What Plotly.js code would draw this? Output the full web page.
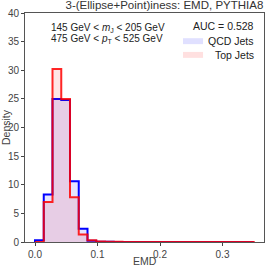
<!DOCTYPE html>
<html><head><meta charset="utf-8">
<script src="https://cdn.plot.ly/plotly-3.0.1.min.js"></script>
<style>html,body{margin:0;padding:0;background:#fff}#c{width:266px;height:266px}</style>
</head><body><div id="c"></div>
<script>
// bin edges: 0 to 0.35, 25 bins of width 0.014
const binStart = 0.0;
const binWidth = 0.014;
const qcdDensity = [0.3, 8.3, 25.0, 24.8, 10.6, 2.3, 0.2, 0.05, 0.03, 0.02, 0.02, 0.01, 0.01, 0.01, 0.01, 0.01, 0.0, 0.0, 0.0, 0.0, 0.0, 0.0, 0.0, 0.0, 0.0];
const topDensity = [0.0, 7.0, 30.2, 25.0, 7.8, 1.3, 0.3, 0.1, 0.05, 0.03, 0.02, 0.02, 0.02, 0.02, 0.02, 0.02, 0.02, 0.02, 0.02, 0.02, 0.02, 0.02, 0.02, 0.02, 0.02];
const seriesNames = ["QCD Jets", "Top Jets"];
const xTicks = [0.0, 0.1, 0.2, 0.3];
const xTickText = ["0.0", "0.1", "0.2", "0.3"];
const yTicks = [0, 5, 10, 15, 20, 25, 30, 35, 40];
const aucText = "AUC = 0.528";
const titleText = "3-(Ellipse+Point)iness: EMD, PYTHIA8";
const xLabel = "EMD";
const yLabel = "Density";
const cut1 = "145 GeV < <i>m</i><sub>J</sub> < 205 GeV";
const cut2 = "475 GeV < <i>p</i><sub>T</sub> < 525 GeV";

function stepXY(vals){
  const xs=[binStart], ys=[0];
  vals.forEach((v,i)=>{ xs.push(binStart+i*binWidth); ys.push(v); });
  const end = binStart+vals.length*binWidth;
  xs.push(end); ys.push(vals[vals.length-1]);
  xs.push(end); ys.push(0);
  return {xs, ys};
}
const q = stepXY(qcdDensity), t = stepXY(topDensity);
const F = "Liberation Sans, Arial, sans-serif";
const data = [
  {x:q.xs, y:q.ys, type:'scatter', mode:'lines', line:{shape:'hv', color:'#0000ff', width:2}, fill:'tozeroy', fillcolor:'rgba(0,0,255,0.1)', name:seriesNames[0], showlegend:false, hoverinfo:'skip'},
  {x:t.xs, y:t.ys, type:'scatter', mode:'lines', line:{shape:'hv', color:'rgba(255,0,0,0.85)', width:2}, fill:'tozeroy', fillcolor:'rgba(255,0,0,0.1)', name:seriesNames[1], showlegend:false, hoverinfo:'skip'}
];
const layout = {
  width:266, height:266,
  margin:{l:25, r:2, t:13, b:24},
  paper_bgcolor:'#fff', plot_bgcolor:'#fff',
  font:{family:F, size:10, color:'#444'},
  showlegend:false,
  title:{text:titleText, font:{family:F, size:11.5, color:'#333'}, x:0.99, xanchor:'right', y:0.995, yanchor:'top'},
  xaxis:{range:[-0.016, 0.3664], tickvals:xTicks, ticktext:xTickText, ticks:'outside', ticklen:3, tickcolor:'#444', showgrid:false, zeroline:false, showline:true, linecolor:'#555', linewidth:1, mirror:true, tickfont:{size:10, color:'#444'}},
  yaxis:{range:[0, 40], tickvals:yTicks, ticks:'outside', ticklen:3, tickcolor:'#444', showgrid:false, zeroline:false, showline:true, linecolor:'#555', linewidth:1, mirror:true, title:{text:yLabel, font:{family:F, size:10.5, color:'#444'}, standoff:2}, tickfont:{size:10, color:'#444'}},
  annotations:[
    {text:xLabel, xref:'paper', yref:'paper', x:0.5, y:-0.085, xanchor:'center', yanchor:'middle', showarrow:false, font:{family:F, size:10.5, color:'#444'}},
    {text:cut1, xref:'paper', yref:'paper', x:0.1, y:0.935, xanchor:'left', yanchor:'middle', showarrow:false, font:{family:F, size:10, color:'#222'}},
    {text:cut2, xref:'paper', yref:'paper', x:0.1, y:0.885, xanchor:'left', yanchor:'middle', showarrow:false, font:{family:F, size:10, color:'#222'}},
    {text:aucText, xref:'paper', yref:'paper', x:0.965, y:0.945, xanchor:'right', yanchor:'middle', showarrow:false, font:{family:F, size:10.5, color:'#222'}},
    {text:seriesNames[0], xref:'paper', yref:'paper', x:0.965, y:0.877, xanchor:'right', yanchor:'middle', showarrow:false, font:{family:F, size:10.5, color:'#222'}},
    {text:seriesNames[1], xref:'paper', yref:'paper', x:0.965, y:0.817, xanchor:'right', yanchor:'middle', showarrow:false, font:{family:F, size:10.5, color:'#222'}}
  ],
  shapes:[
    {type:'rect', xref:'paper', yref:'paper', x0:0.661, x1:0.745, y0:0.864, y1:0.89, fillcolor:'rgba(0,0,255,0.12)', line:{width:0}},
    {type:'rect', xref:'paper', yref:'paper', x0:0.661, x1:0.745, y0:0.804, y1:0.830, fillcolor:'rgba(255,0,0,0.12)', line:{width:0}}
  ]
};
Plotly.newPlot('c', data, layout, {displayModeBar:false, staticPlot:true});
</script></body></html>
